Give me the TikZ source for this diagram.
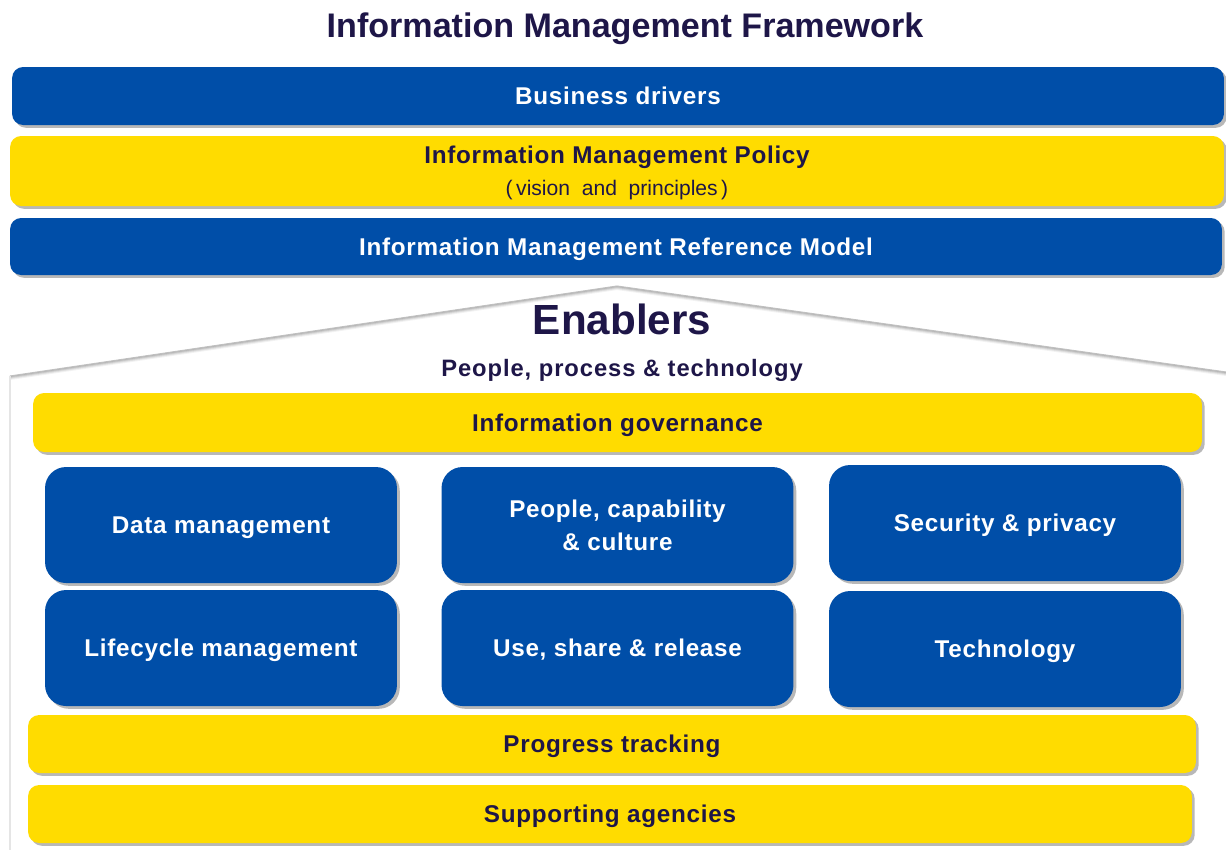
\documentclass[tikz,border=0pt]{standalone}
\usepackage{fontspec}
\setmainfont{Liberation Sans}
\newfontfamily\spacedsans[LetterSpace=3]{Liberation Sans}
\newfontfamily\widesans[LetterSpace=4]{Liberation Sans}
\usetikzlibrary{shadows}
\definecolor{imblue}{RGB}{0,78,168}
\definecolor{imyellow}{RGB}{255,220,0}
\definecolor{imnavy}{RGB}{30,22,72}
\tikzset{
  bar/.style={rounded corners=0.22cm, inner sep=0pt, text depth=0pt,
    font=\spacedsans\fontsize{13.8}{17}\selectfont\bfseries,
    drop shadow={shadow xshift=1.6pt, shadow yshift=-1.6pt, fill=black, opacity=0.28}},
  bluebar/.style={bar, fill=imblue, text=white},
  yellowbar/.style={bar, fill=imyellow, text=imnavy},
  tile/.style={bluebar, rounded corners=0.42cm, minimum width=7.04cm, minimum height=2.32cm, align=center}
}
\begin{document}
\begin{tikzpicture}[x=0.02cm, y=-0.02cm]
			%%%%% START %%%%%
			\useasboundingbox[fill=white] (0, 0) rectangle (1226, 850);
			
			\node[font=\fontsize{19.4}{23}\selectfont\bfseries, text=imnavy] (title) at (625, 29) {Information Management Framework};
			
			\node[bluebar, minimum width=24.24cm, minimum height=1.16cm] (drivers) at (618, 96) {Business drivers};
			\node[yellowbar, minimum width=24.28cm, minimum height=1.40cm, align=center] (policy) at (617, 171)
				{Information Management Policy\\[1pt]{\rmfamily\fontsize{12}{14}\selectfont\mdseries (\,vision\ \ and\ \ principles\,)}};
			\node[bluebar, minimum width=24.24cm, minimum height=1.14cm] (refmodel) at (616, 246.5) {Information Management Reference Model};
			
			% roof of the house
			\fill[white] (10, 850) -- (10, 376) -- (617, 286) -- (1226, 372) -- (1240, 850) -- cycle;
			\foreach \d/\op in {4/0.05, 3/0.07, 2/0.09, 1/0.11}
				\fill[black, opacity=\op] (10, 376) -- (617, 286) -- (1226, 372) -- (1226, 372+\d) -- (617, 286+\d) -- (10, 376+\d) -- cycle;
			\draw[black!25, line width=0.6pt] (10, 376) -- (617, 286) -- (1226, 372);
			\draw[black!10, line width=0.6pt] (10, 376) -- (10, 850);
			
			\node[font=\fontsize{24}{28}\selectfont\bfseries, text=imnavy] (enablers) at (622, 319) {Enablers};
			\node[font=\widesans\fontsize{13.5}{16}\selectfont\bfseries, text=imnavy, text depth=0pt] (ppt) at (622, 368) {People, process \& technology};
			
			\node[yellowbar, minimum width=23.38cm, minimum height=1.18cm] (governance) at (617.5, 422.5) {Information governance};
			
			\node[tile] (datamgmt) at (221, 525) {Data management};
			\node[tile] (people) at (617.5, 525) {People, capability\\[2pt]\& culture};
			\node[tile] (security) at (1005, 523) {Security \& privacy};
			\node[tile] (lifecycle) at (221, 648) {Lifecycle management};
			\node[tile] (useshare) at (617.5, 648) {Use, share \& release};
			\node[tile] (technology) at (1005, 649) {Technology};
			
			\node[yellowbar, minimum width=23.36cm, minimum height=1.16cm] (progress) at (612, 744) {Progress tracking};
			\node[yellowbar, minimum width=23.28cm, minimum height=1.16cm] (agencies) at (610, 814) {Supporting agencies};
			%%%%% END %%%%%
		\end{tikzpicture}
\end{document}
